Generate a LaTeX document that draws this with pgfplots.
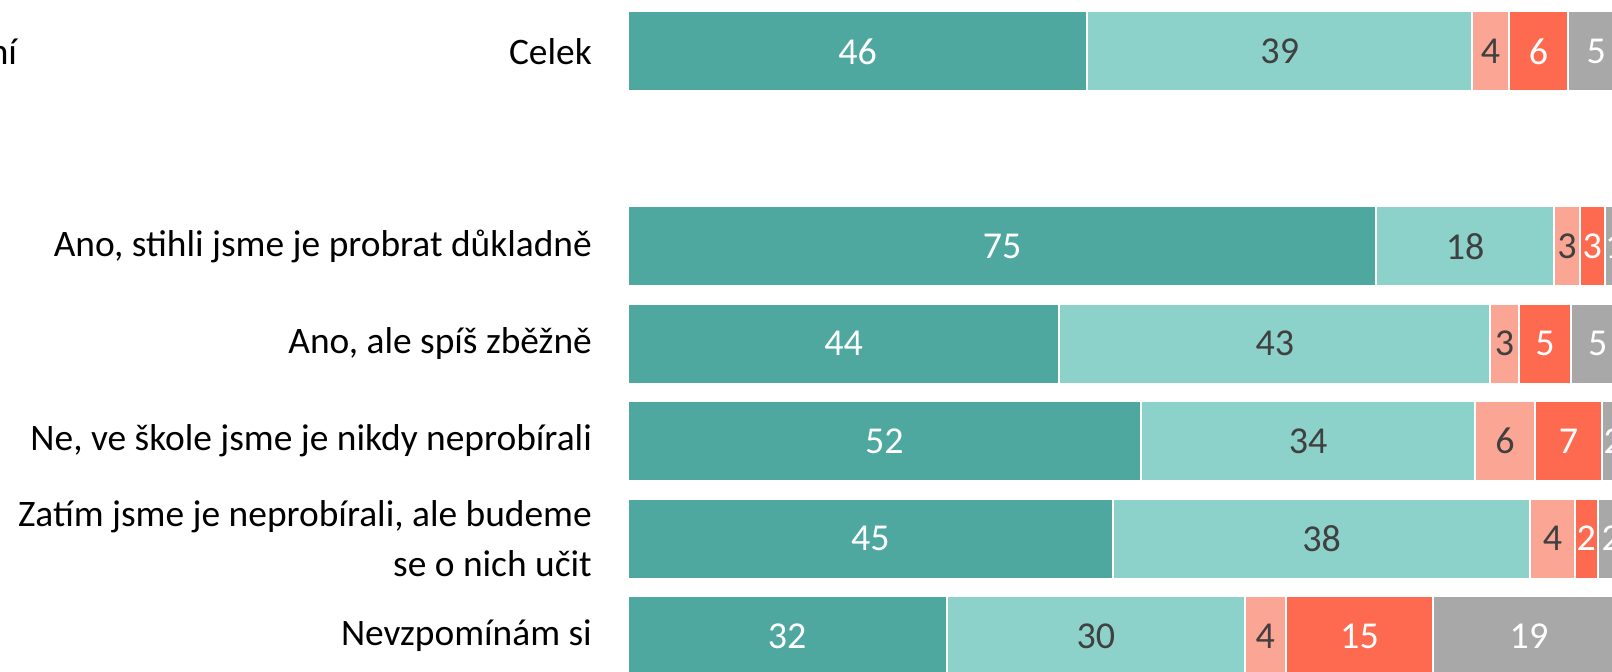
\documentclass[border=0pt]{standalone}
\usepackage{pgfplots}
\usepackage{pgfplotstable}
\pgfplotsset{compat=1.18}
\usepackage{fontspec}
\setmainfont{Carlito}
\definecolor{c1}{HTML}{4EA89F}
\definecolor{c2}{HTML}{8CD2CB}
\definecolor{c3}{HTML}{FBA594}
\definecolor{c4}{HTML}{FE6A4F}
\definecolor{c5}{HTML}{A8A8A8}
\definecolor{txt}{HTML}{404040}

% widths (share of bar) and printed labels
\pgfplotstableread{
y w1 l1 w2 l2 w3 l3 w4 l4 w5 l5
6 46.1 46 38.6 39 3.7 4 5.9 6 5.7 5
4 75.1 75 17.8 18 2.6 3 2.5 3 2.0 1
3 43.3 44 43.2 43 2.9 3 5.2 5 5.4 5
2 51.5 52 33.5 34 6.0 6 6.7 7 2.3 2
1 48.7 45 41.8 38 4.5 4 2.3 2 2.7 2
0 32.0 32 29.9 30 4.1 4 14.8 15 19.2 19
}\data

\pgfplotsset{
  frame/.style={at={(0,0)}, anchor=origin,
    x=4.985pt, y=48.7pt,
    xmin=0, xmax=100, ymin=-0.5, ymax=6.6, clip=false},
  lab/.style={only marks, mark=none, nodes near coords, point meta=explicit symbolic,
    every node near coord/.style={anchor=center, inner sep=0pt, text=#1,
      font=\fontsize{19}{22}\selectfont}},
}

\begin{document}
\begin{tikzpicture}
\begin{scope}
\clip (-313.85pt,-17.55pt) rectangle (492.15pt,317.95pt);
\begin{axis}[frame,
  xbar stacked, bar width=40pt,
  axis line style={draw=none}, xtick=\empty,
  major tick length=0pt,
  ytick={0,1,2,3,4,6},
  yticklabels={Nevzpomínám si,
    {Zatím jsme je neprobírali, ale budeme\\se o nich učit},
    {Ne, ve škole jsme je nikdy neprobírali},
    {Ano, ale spíš zběžně},
    {Ano, stihli jsme je probrat důkladně},
    Celek},
  yticklabel style={anchor=east, align=right, inner sep=0pt, xshift=-17.75pt,
    font=\fontsize{18.7}{25.2}\selectfont, text=black},
]
\addplot[fill=c1, draw=white, line width=1pt] table[x=w1, y=y] {\data};
\addplot[fill=c2, draw=white, line width=1pt] table[x=w2, y=y] {\data};
\addplot[fill=c3, draw=white, line width=1pt] table[x=w3, y=y] {\data};
\addplot[fill=c4, draw=white, line width=1pt] table[x=w4, y=y] {\data};
\addplot[fill=c5, draw=white, line width=1pt] table[x=w5, y=y] {\data};
\node[anchor=east, inner sep=0pt, font=\fontsize{18.7}{25.2}\selectfont]
  at (axis cs:0,6) [xshift=-305.1pt] {hodnocení};
\end{axis}
\begin{axis}[frame, hide axis]
\addplot[lab=white] table[x expr=0.5*\thisrow{w1}, y=y, meta=l1] {\data};
\addplot[lab=txt] table[x expr=\thisrow{w1}+0.5*\thisrow{w2}, y=y, meta=l2] {\data};
\addplot[lab=txt] table[x expr=\thisrow{w1}+\thisrow{w2}+0.5*\thisrow{w3}, y=y, meta=l3] {\data};
\addplot[lab=white] table[x expr=\thisrow{w1}+\thisrow{w2}+\thisrow{w3}+0.5*\thisrow{w4}, y=y, meta=l4] {\data};
\addplot[lab=white] table[x expr=\thisrow{w1}+\thisrow{w2}+\thisrow{w3}+\thisrow{w4}+0.5*\thisrow{w5}, y=y, meta=l5] {\data};
\end{axis}
\end{scope}
\pgfresetboundingbox
\useasboundingbox (-313.85pt,-17.55pt) rectangle (492.15pt,317.95pt);
\end{tikzpicture}
\end{document}
